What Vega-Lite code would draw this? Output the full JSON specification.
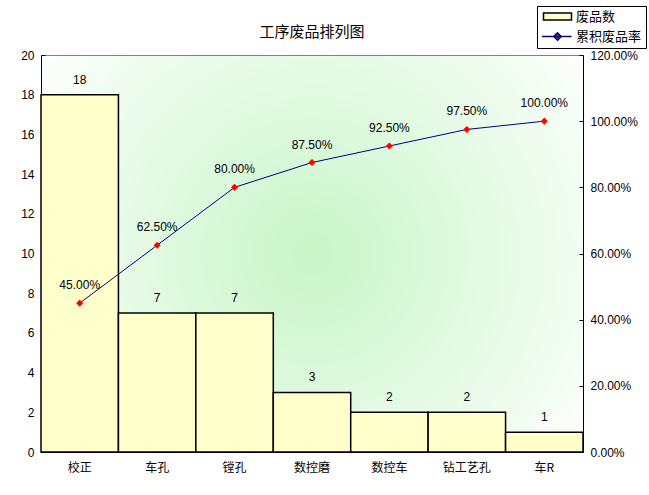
{
  "$schema": "https://vega.github.io/schema/vega-lite/v6.json",
  "width": 542,
  "height": 397,
  "autosize": {"type": "none"},
  "padding": {"left": 41, "top": 55, "right": 66, "bottom": 43},
  "background": "white",
  "title": {
    "text": "工序废品排列图",
    "font": "Noto Sans CJK SC",
    "fontSize": 15,
    "fontWeight": "normal",
    "color": "black",
    "offset": 14,
    "dy": 48
  },
  "data": {
    "values": [
      {"process": "校正", "count": 18, "rate": 0.45},
      {"process": "车孔", "count": 7, "rate": 0.625},
      {"process": "镗孔", "count": 7, "rate": 0.8},
      {"process": "数控磨", "count": 3, "rate": 0.875},
      {"process": "数控车", "count": 2, "rate": 0.925},
      {"process": "钻工艺孔", "count": 2, "rate": 0.975},
      {"process": "车R", "count": 1, "rate": 1.0}
    ]
  },
  "encoding": {
    "x": {
      "field": "process",
      "type": "nominal",
      "sort": null,
      "scale": {"paddingInner": 0, "paddingOuter": 0},
      "axis": {
        "title": null,
        "labelAngle": 0,
        "ticks": false,
        "labelPadding": 10,
        "labelFont": "Noto Sans CJK SC",
        "labelFontSize": 12,
        "labelColor": "black",
        "domainColor": "black"
      }
    }
  },
  "layer": [
    {
      "encoding": {
        "y": {
          "field": "count",
          "type": "quantitative",
          "scale": {"domain": [0, 20], "nice": false},
          "axis": {
            "title": null,
            "values": [0, 2, 4, 6, 8, 10, 12, 14, 16, 18, 20],
            "grid": false,
            "tickSize": -4,
            "labelPadding": 11,
            "labelFont": "Liberation Sans",
            "labelFontSize": 12,
            "labelColor": "black",
            "domainColor": "black",
            "tickColor": "black"
          }
        }
      },
      "layer": [
        {
          "mark": {"type": "bar", "strokeWidth": 1.5},
          "encoding": {
            "fill": {
              "datum": "废品数",
              "scale": {"domain": ["废品数", "累积废品率"], "range": ["#FFFFCC", "#FF0000"]},
              "legend": {
                "title": null,
                "orient": "none",
                "legendX": 496,
                "legendY": -49,
                "fillColor": "white",
                "strokeColor": "black",
                "padding": 4,
                "symbolSize": 100,
                "symbolOffset": 10,
                "labelOffset": 12,
                "rowPadding": 5,
                "labelFont": "Noto Sans CJK SC",
                "labelFontSize": 13,
                "labelColor": "black"
              }
            },
            "stroke": {
              "datum": "废品数",
              "scale": {"domain": ["废品数", "累积废品率"], "range": ["#000000", "#000080"]},
              "legend": {
                "title": null,
                "orient": "none",
                "legendX": 496,
                "legendY": -49,
                "fillColor": "white",
                "strokeColor": "black",
                "padding": 4,
                "symbolSize": 100,
                "symbolOffset": 10,
                "labelOffset": 12,
                "rowPadding": 5,
                "labelFont": "Noto Sans CJK SC",
                "labelFontSize": 13,
                "labelColor": "black"
              }
            }
          }
        },
        {
          "mark": {
            "type": "text",
            "baseline": "bottom",
            "dy": -8,
            "font": "Liberation Sans",
            "fontSize": 12,
            "color": "black"
          },
          "encoding": {"text": {"field": "count", "type": "quantitative"}}
        }
      ]
    },
    {
      "encoding": {
        "y": {
          "field": "rate",
          "type": "quantitative",
          "scale": {"domain": [0, 1.2], "nice": false},
          "axis": {
            "orient": "right",
            "title": null,
            "format": ".2%",
            "values": [0, 0.2, 0.4, 0.6, 0.8, 1.0, 1.2],
            "grid": false,
            "tickSize": -4,
            "labelPadding": 11,
            "labelFont": "Liberation Sans",
            "labelFontSize": 12,
            "labelColor": "black",
            "domainColor": "black",
            "tickColor": "black"
          }
        }
      },
      "layer": [
        {
          "mark": {"type": "line", "color": "#000080", "strokeWidth": 1}
        },
        {
          "mark": {"type": "point", "filled": true, "size": 90, "opacity": 1, "color": "#FF0000"},
          "encoding": {
            "shape": {
              "datum": "累积废品率",
              "scale": {
                "domain": ["废品数", "累积废品率"],
                "range": ["M-2.8,-0.7H2.8V0.7H-2.8Z", "M-3.1,0H2.8M0,-0.75L0.75,0L0,0.75L-0.75,0Z"]
              },
              "legend": {
                "title": null,
                "orient": "none",
                "legendX": 496,
                "legendY": -49,
                "fillColor": "white",
                "strokeColor": "black",
                "padding": 4,
                "symbolSize": 100,
                "symbolOffset": 10,
                "labelOffset": 12,
                "rowPadding": 5,
                "labelFont": "Noto Sans CJK SC",
                "labelFontSize": 13,
                "labelColor": "black"
              }
            }
          }
        },
        {
          "mark": {
            "type": "text",
            "baseline": "bottom",
            "dy": -11,
            "font": "Liberation Sans",
            "fontSize": 12,
            "color": "black"
          },
          "encoding": {"text": {"field": "rate", "type": "quantitative", "format": ".2%"}}
        }
      ]
    }
  ],
  "resolve": {"scale": {"y": "independent"}},
  "config": {
    "view": {
      "stroke": "#808080",
      "fill": {
        "gradient": "radial",
        "x1": 0.5, "y1": 0.5, "x2": 0.5, "y2": 0.5,
        "r1": 0, "r2": 0.65,
        "stops": [
          {"offset": 0, "color": "#C8F5C8"},
          {"offset": 1, "color": "#FFFFFF"}
        ]
      }
    }
  }
}
